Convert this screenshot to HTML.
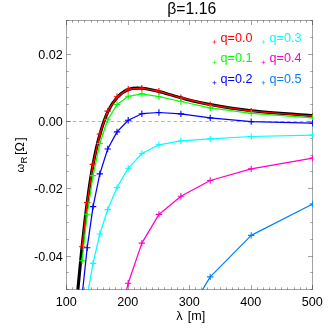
<!DOCTYPE html><html><head><meta charset="utf-8"><style>html,body{margin:0;padding:0;background:#fff}body{width:332px;height:332px;overflow:hidden;position:relative}</style></head><body><svg width="332" height="332" viewBox="0 0 332 332" style="position:absolute;left:0;top:0;will-change:transform">
<defs><clipPath id="c"><rect x="66.00" y="20.00" width="247.00" height="270.00"/></clipPath></defs>
<rect x="66.50" y="20.50" width="246.00" height="269.00" fill="none" stroke="#000" stroke-opacity="0.36" stroke-width="1"/>
<path d="M66.50,289.50v-4.50M66.50,20.50v4.50M72.50,289.50v-2.20M72.50,20.50v2.20M78.50,289.50v-2.20M78.50,20.50v2.20M84.50,289.50v-2.20M84.50,20.50v2.20M91.50,289.50v-2.20M91.50,20.50v2.20M97.50,289.50v-2.20M97.50,20.50v2.20M103.50,289.50v-2.20M103.50,20.50v2.20M109.50,289.50v-2.20M109.50,20.50v2.20M115.50,289.50v-2.20M115.50,20.50v2.20M121.50,289.50v-2.20M121.50,20.50v2.20M128.50,289.50v-4.50M128.50,20.50v4.50M134.50,289.50v-2.20M134.50,20.50v2.20M140.50,289.50v-2.20M140.50,20.50v2.20M146.50,289.50v-2.20M146.50,20.50v2.20M152.50,289.50v-2.20M152.50,20.50v2.20M158.50,289.50v-2.20M158.50,20.50v2.20M164.50,289.50v-2.20M164.50,20.50v2.20M171.50,289.50v-2.20M171.50,20.50v2.20M177.50,289.50v-2.20M177.50,20.50v2.20M183.50,289.50v-2.20M183.50,20.50v2.20M189.50,289.50v-4.50M189.50,20.50v4.50M195.50,289.50v-2.20M195.50,20.50v2.20M201.50,289.50v-2.20M201.50,20.50v2.20M207.50,289.50v-2.20M207.50,20.50v2.20M214.50,289.50v-2.20M214.50,20.50v2.20M220.50,289.50v-2.20M220.50,20.50v2.20M226.50,289.50v-2.20M226.50,20.50v2.20M232.50,289.50v-2.20M232.50,20.50v2.20M238.50,289.50v-2.20M238.50,20.50v2.20M244.50,289.50v-2.20M244.50,20.50v2.20M251.50,289.50v-4.50M251.50,20.50v4.50M257.50,289.50v-2.20M257.50,20.50v2.20M263.50,289.50v-2.20M263.50,20.50v2.20M269.50,289.50v-2.20M269.50,20.50v2.20M275.50,289.50v-2.20M275.50,20.50v2.20M281.50,289.50v-2.20M281.50,20.50v2.20M287.50,289.50v-2.20M287.50,20.50v2.20M294.50,289.50v-2.20M294.50,20.50v2.20M300.50,289.50v-2.20M300.50,20.50v2.20M306.50,289.50v-2.20M306.50,20.50v2.20M312.50,289.50v-4.50M312.50,20.50v4.50M66.50,289.50h2.20M312.50,289.50h-2.20M66.50,272.50h2.20M312.50,272.50h-2.20M66.50,256.50h4.50M312.50,256.50h-4.50M66.50,239.50h2.20M312.50,239.50h-2.20M66.50,222.50h2.20M312.50,222.50h-2.20M66.50,205.50h2.20M312.50,205.50h-2.20M66.50,188.50h4.50M312.50,188.50h-4.50M66.50,171.50h2.20M312.50,171.50h-2.20M66.50,155.50h2.20M312.50,155.50h-2.20M66.50,138.50h2.20M312.50,138.50h-2.20M66.50,121.50h4.50M312.50,121.50h-4.50M66.50,104.50h2.20M312.50,104.50h-2.20M66.50,87.50h2.20M312.50,87.50h-2.20M66.50,71.50h2.20M312.50,71.50h-2.20M66.50,54.50h4.50M312.50,54.50h-4.50M66.50,37.50h2.20M312.50,37.50h-2.20M66.50,20.50h2.20M312.50,20.50h-2.20" stroke="#000" stroke-opacity="0.36" stroke-width="1" fill="none"/>
<line x1="66.50" x2="312.50" y1="121.50" y2="121.50" stroke="#000" stroke-opacity="0.33" stroke-width="0.9" stroke-dasharray="3.6 2.7"/>
<g clip-path="url(#c)">
<path d="M312.70,115.60 C302.45,114.80 268.28,112.63 251.20,110.80 C234.12,108.97 221.91,106.77 210.20,104.60 C198.49,102.43 189.46,99.98 180.91,97.80 C172.37,95.62 165.46,93.08 158.95,91.50 C152.44,89.92 146.98,88.62 141.87,88.30 C136.76,87.97 132.38,88.06 128.30,89.55 C124.22,91.04 120.75,93.62 117.37,97.25 C113.98,100.88 110.89,105.17 108.00,111.30 C105.11,117.42 102.51,125.15 100.02,134.00 C97.52,142.85 95.19,152.97 93.06,164.40 C90.92,175.83 89.03,188.88 87.20,202.60 C85.37,216.32 83.62,232.22 82.08,246.70 C80.53,261.18 78.60,282.37 77.90,289.50" fill="none" stroke="#000" stroke-width="3.1"/>
<polyline points="312.70,116.10 251.20,111.10 210.20,105.00 180.91,97.80 158.95,91.30 141.87,88.10 128.20,89.20 117.02,96.80 107.70,111.10 99.82,134.00 93.06,164.40 87.20,202.60 82.08,246.70" fill="none" stroke="#ff0000" stroke-width="1.4" stroke-linejoin="round"/>
<path d="M309.50,116.10h6.40M312.70,112.90v6.40" stroke="#ff0000" stroke-width="1.1" fill="none"/>
<path d="M248.00,111.10h6.40M251.20,107.90v6.40" stroke="#ff0000" stroke-width="1.1" fill="none"/>
<path d="M207.00,105.00h6.40M210.20,101.80v6.40" stroke="#ff0000" stroke-width="1.1" fill="none"/>
<path d="M177.71,97.80h6.40M180.91,94.60v6.40" stroke="#ff0000" stroke-width="1.1" fill="none"/>
<path d="M155.75,91.30h6.40M158.95,88.10v6.40" stroke="#ff0000" stroke-width="1.1" fill="none"/>
<path d="M138.67,88.10h6.40M141.87,84.90v6.40" stroke="#ff0000" stroke-width="1.1" fill="none"/>
<path d="M125.00,89.20h6.40M128.20,86.00v6.40" stroke="#ff0000" stroke-width="1.1" fill="none"/>
<path d="M113.82,96.80h6.40M117.02,93.60v6.40" stroke="#ff0000" stroke-width="1.1" fill="none"/>
<path d="M104.50,111.10h6.40M107.70,107.90v6.40" stroke="#ff0000" stroke-width="1.1" fill="none"/>
<path d="M96.62,134.00h6.40M99.82,130.80v6.40" stroke="#ff0000" stroke-width="1.1" fill="none"/>
<path d="M89.86,164.40h6.40M93.06,161.20v6.40" stroke="#ff0000" stroke-width="1.1" fill="none"/>
<path d="M84.00,202.60h6.40M87.20,199.40v6.40" stroke="#ff0000" stroke-width="1.1" fill="none"/>
<path d="M78.88,246.70h6.40M82.08,243.50v6.40" stroke="#ff0000" stroke-width="1.1" fill="none"/>
<polyline points="312.70,117.80 251.20,113.40 210.20,107.90 180.91,101.50 158.95,96.70 141.87,93.80 128.20,96.30 117.02,104.50 107.70,119.80 99.82,143.50 93.06,175.60 87.20,214.30 82.08,260.80" fill="none" stroke="#00ff00" stroke-width="1.25" stroke-linejoin="round"/>
<path d="M309.50,117.80h6.40M312.70,114.60v6.40" stroke="#00ff00" stroke-width="1.1" fill="none"/>
<path d="M248.00,113.40h6.40M251.20,110.20v6.40" stroke="#00ff00" stroke-width="1.1" fill="none"/>
<path d="M207.00,107.90h6.40M210.20,104.70v6.40" stroke="#00ff00" stroke-width="1.1" fill="none"/>
<path d="M177.71,101.50h6.40M180.91,98.30v6.40" stroke="#00ff00" stroke-width="1.1" fill="none"/>
<path d="M155.75,96.70h6.40M158.95,93.50v6.40" stroke="#00ff00" stroke-width="1.1" fill="none"/>
<path d="M138.67,93.80h6.40M141.87,90.60v6.40" stroke="#00ff00" stroke-width="1.1" fill="none"/>
<path d="M125.00,96.30h6.40M128.20,93.10v6.40" stroke="#00ff00" stroke-width="1.1" fill="none"/>
<path d="M113.82,104.50h6.40M117.02,101.30v6.40" stroke="#00ff00" stroke-width="1.1" fill="none"/>
<path d="M104.50,119.80h6.40M107.70,116.60v6.40" stroke="#00ff00" stroke-width="1.1" fill="none"/>
<path d="M96.62,143.50h6.40M99.82,140.30v6.40" stroke="#00ff00" stroke-width="1.1" fill="none"/>
<path d="M89.86,175.60h6.40M93.06,172.40v6.40" stroke="#00ff00" stroke-width="1.1" fill="none"/>
<path d="M84.00,214.30h6.40M87.20,211.10v6.40" stroke="#00ff00" stroke-width="1.1" fill="none"/>
<path d="M78.88,260.80h6.40M82.08,257.60v6.40" stroke="#00ff00" stroke-width="1.1" fill="none"/>
<polyline points="312.70,123.20 251.20,121.60 210.20,117.90 180.91,113.90 158.95,112.50 141.87,113.70 128.20,120.20 117.02,131.90 107.70,149.00 99.82,173.90 93.06,206.60 87.20,247.70 82.08,295.70" fill="none" stroke="#0000ff" stroke-width="1.25" stroke-linejoin="round"/>
<path d="M309.50,123.20h6.40M312.70,120.00v6.40" stroke="#0000ff" stroke-width="1.1" fill="none"/>
<path d="M248.00,121.60h6.40M251.20,118.40v6.40" stroke="#0000ff" stroke-width="1.1" fill="none"/>
<path d="M207.00,117.90h6.40M210.20,114.70v6.40" stroke="#0000ff" stroke-width="1.1" fill="none"/>
<path d="M177.71,113.90h6.40M180.91,110.70v6.40" stroke="#0000ff" stroke-width="1.1" fill="none"/>
<path d="M155.75,112.50h6.40M158.95,109.30v6.40" stroke="#0000ff" stroke-width="1.1" fill="none"/>
<path d="M138.67,113.70h6.40M141.87,110.50v6.40" stroke="#0000ff" stroke-width="1.1" fill="none"/>
<path d="M125.00,120.20h6.40M128.20,117.00v6.40" stroke="#0000ff" stroke-width="1.1" fill="none"/>
<path d="M113.82,131.90h6.40M117.02,128.70v6.40" stroke="#0000ff" stroke-width="1.1" fill="none"/>
<path d="M104.50,149.00h6.40M107.70,145.80v6.40" stroke="#0000ff" stroke-width="1.1" fill="none"/>
<path d="M96.62,173.90h6.40M99.82,170.70v6.40" stroke="#0000ff" stroke-width="1.1" fill="none"/>
<path d="M89.86,206.60h6.40M93.06,203.40v6.40" stroke="#0000ff" stroke-width="1.1" fill="none"/>
<path d="M84.00,247.70h6.40M87.20,244.50v6.40" stroke="#0000ff" stroke-width="1.1" fill="none"/>
<polyline points="312.70,135.10 251.20,136.50 210.20,138.90 180.91,140.80 158.95,144.80 141.87,153.50 128.20,168.30 117.02,187.60 107.70,209.60 99.82,234.00 93.06,263.40 87.20,296.00" fill="none" stroke="#00ffff" stroke-width="1.25" stroke-linejoin="round"/>
<path d="M309.50,135.10h6.40M312.70,131.90v6.40" stroke="#00ffff" stroke-width="1.1" fill="none"/>
<path d="M248.00,136.50h6.40M251.20,133.30v6.40" stroke="#00ffff" stroke-width="1.1" fill="none"/>
<path d="M207.00,138.90h6.40M210.20,135.70v6.40" stroke="#00ffff" stroke-width="1.1" fill="none"/>
<path d="M177.71,140.80h6.40M180.91,137.60v6.40" stroke="#00ffff" stroke-width="1.1" fill="none"/>
<path d="M155.75,144.80h6.40M158.95,141.60v6.40" stroke="#00ffff" stroke-width="1.1" fill="none"/>
<path d="M138.67,153.50h6.40M141.87,150.30v6.40" stroke="#00ffff" stroke-width="1.1" fill="none"/>
<path d="M125.00,168.30h6.40M128.20,165.10v6.40" stroke="#00ffff" stroke-width="1.1" fill="none"/>
<path d="M113.82,187.60h6.40M117.02,184.40v6.40" stroke="#00ffff" stroke-width="1.1" fill="none"/>
<path d="M104.50,209.60h6.40M107.70,206.40v6.40" stroke="#00ffff" stroke-width="1.1" fill="none"/>
<path d="M96.62,234.00h6.40M99.82,230.80v6.40" stroke="#00ffff" stroke-width="1.1" fill="none"/>
<path d="M89.86,263.40h6.40M93.06,260.20v6.40" stroke="#00ffff" stroke-width="1.1" fill="none"/>
<polyline points="312.70,158.10 251.20,168.90 210.20,180.50 180.91,196.30 158.95,214.40 141.87,243.10 128.20,283.30 117.02,330.00" fill="none" stroke="#ff00c8" stroke-width="1.25" stroke-linejoin="round"/>
<path d="M309.50,158.10h6.40M312.70,154.90v6.40" stroke="#ff00c8" stroke-width="1.1" fill="none"/>
<path d="M248.00,168.90h6.40M251.20,165.70v6.40" stroke="#ff00c8" stroke-width="1.1" fill="none"/>
<path d="M207.00,180.50h6.40M210.20,177.30v6.40" stroke="#ff00c8" stroke-width="1.1" fill="none"/>
<path d="M177.71,196.30h6.40M180.91,193.10v6.40" stroke="#ff00c8" stroke-width="1.1" fill="none"/>
<path d="M155.75,214.40h6.40M158.95,211.20v6.40" stroke="#ff00c8" stroke-width="1.1" fill="none"/>
<path d="M138.67,243.10h6.40M141.87,239.90v6.40" stroke="#ff00c8" stroke-width="1.1" fill="none"/>
<path d="M125.00,283.30h6.40M128.20,280.10v6.40" stroke="#ff00c8" stroke-width="1.1" fill="none"/>
<polyline points="312.70,204.00 251.20,235.40 210.20,276.90 180.91,325.70" fill="none" stroke="#0080ff" stroke-width="1.25" stroke-linejoin="round"/>
<path d="M309.50,204.00h6.40M312.70,200.80v6.40" stroke="#0080ff" stroke-width="1.1" fill="none"/>
<path d="M248.00,235.40h6.40M251.20,232.20v6.40" stroke="#0080ff" stroke-width="1.1" fill="none"/>
<path d="M207.00,276.90h6.40M210.20,273.70v6.40" stroke="#0080ff" stroke-width="1.1" fill="none"/>
</g>
<text x="191.70" y="13.70" text-anchor="middle" fill="#000" style="font-family:'Liberation Sans',sans-serif;font-size:15.75px;letter-spacing:0.00px" >β=1.16</text>
<text x="66.30" y="305.80" text-anchor="middle" fill="#000" style="font-family:'Liberation Sans',sans-serif;font-size:12.60px;letter-spacing:0.00px" >100</text>
<text x="127.80" y="305.80" text-anchor="middle" fill="#000" style="font-family:'Liberation Sans',sans-serif;font-size:12.60px;letter-spacing:0.00px" >200</text>
<text x="189.30" y="305.80" text-anchor="middle" fill="#000" style="font-family:'Liberation Sans',sans-serif;font-size:12.60px;letter-spacing:0.00px" >300</text>
<text x="250.80" y="305.80" text-anchor="middle" fill="#000" style="font-family:'Liberation Sans',sans-serif;font-size:12.60px;letter-spacing:0.00px" >400</text>
<text x="312.30" y="305.80" text-anchor="middle" fill="#000" style="font-family:'Liberation Sans',sans-serif;font-size:12.60px;letter-spacing:0.00px" >500</text>
<text x="62.80" y="58.82" text-anchor="end" fill="#000" style="font-family:'Liberation Sans',sans-serif;font-size:12.60px;letter-spacing:0.00px" >0.02</text>
<text x="62.80" y="126.08" text-anchor="end" fill="#000" style="font-family:'Liberation Sans',sans-serif;font-size:12.60px;letter-spacing:0.00px" >0.00</text>
<text x="62.80" y="193.32" text-anchor="end" fill="#000" style="font-family:'Liberation Sans',sans-serif;font-size:12.60px;letter-spacing:0.00px" >-0.02</text>
<text x="62.80" y="260.58" text-anchor="end" fill="#000" style="font-family:'Liberation Sans',sans-serif;font-size:12.60px;letter-spacing:0.00px" >-0.04</text>
<text x="190.75" y="319.50" text-anchor="middle" fill="#000" style="font-family:'Liberation Sans',sans-serif;font-size:12.60px;letter-spacing:0.00px" >λ <tspan dx="1.5">[m]</tspan></text>
<g transform="translate(23.6,154.5) rotate(-90)"><text x="-18.10" y="0.00" text-anchor="start" fill="#000" style="font-family:'Liberation Sans',sans-serif;font-size:11.20px">ω</text><text x="-9.00" y="3.30" text-anchor="start" fill="#000" style="font-family:'Liberation Sans',sans-serif;font-size:9.50px">R</text><text x="-0.60" y="0.00" text-anchor="start" fill="#000" style="font-family:'Liberation Sans',sans-serif;font-size:12.60px">[</text><text x="3.10" y="0.00" text-anchor="start" fill="#000" style="font-family:'Liberation Sans',sans-serif;font-size:12.60px">Ω</text><text x="13.70" y="0.00" text-anchor="start" fill="#000" style="font-family:'Liberation Sans',sans-serif;font-size:12.60px">]</text></g>
<path d="M212.55,42.05h3.8M214.45,40.15v3.8" stroke="#ff0000" stroke-width="0.75" stroke-opacity="0.85" fill="none"/>
<text x="220.60" y="42.10" text-anchor="start" fill="#ff0000" style="font-family:'Liberation Sans',sans-serif;font-size:12.60px;letter-spacing:0.00px" >q=0.0</text>
<path d="M212.55,62.40h3.8M214.45,60.50v3.8" stroke="#00ff00" stroke-width="0.75" stroke-opacity="0.85" fill="none"/>
<text x="220.60" y="62.45" text-anchor="start" fill="#00ff00" style="font-family:'Liberation Sans',sans-serif;font-size:12.60px;letter-spacing:0.00px" >q=0.1</text>
<path d="M212.55,82.75h3.8M214.45,80.85v3.8" stroke="#0000ff" stroke-width="0.75" stroke-opacity="0.85" fill="none"/>
<text x="220.60" y="82.80" text-anchor="start" fill="#0000ff" style="font-family:'Liberation Sans',sans-serif;font-size:12.60px;letter-spacing:0.00px" >q=0.2</text>
<path d="M261.55,42.05h3.8M263.45,40.15v3.8" stroke="#00ffff" stroke-width="0.75" stroke-opacity="0.85" fill="none"/>
<text x="269.60" y="42.10" text-anchor="start" fill="#00ffff" style="font-family:'Liberation Sans',sans-serif;font-size:12.60px;letter-spacing:0.00px" >q=0.3</text>
<path d="M261.55,62.40h3.8M263.45,60.50v3.8" stroke="#ff00c8" stroke-width="0.75" stroke-opacity="0.85" fill="none"/>
<text x="269.60" y="62.45" text-anchor="start" fill="#ff00c8" style="font-family:'Liberation Sans',sans-serif;font-size:12.60px;letter-spacing:0.00px" >q=0.4</text>
<path d="M261.55,82.75h3.8M263.45,80.85v3.8" stroke="#0080ff" stroke-width="0.75" stroke-opacity="0.85" fill="none"/>
<text x="269.60" y="82.80" text-anchor="start" fill="#0080ff" style="font-family:'Liberation Sans',sans-serif;font-size:12.60px;letter-spacing:0.00px" >q=0.5</text>
</svg></body></html>
